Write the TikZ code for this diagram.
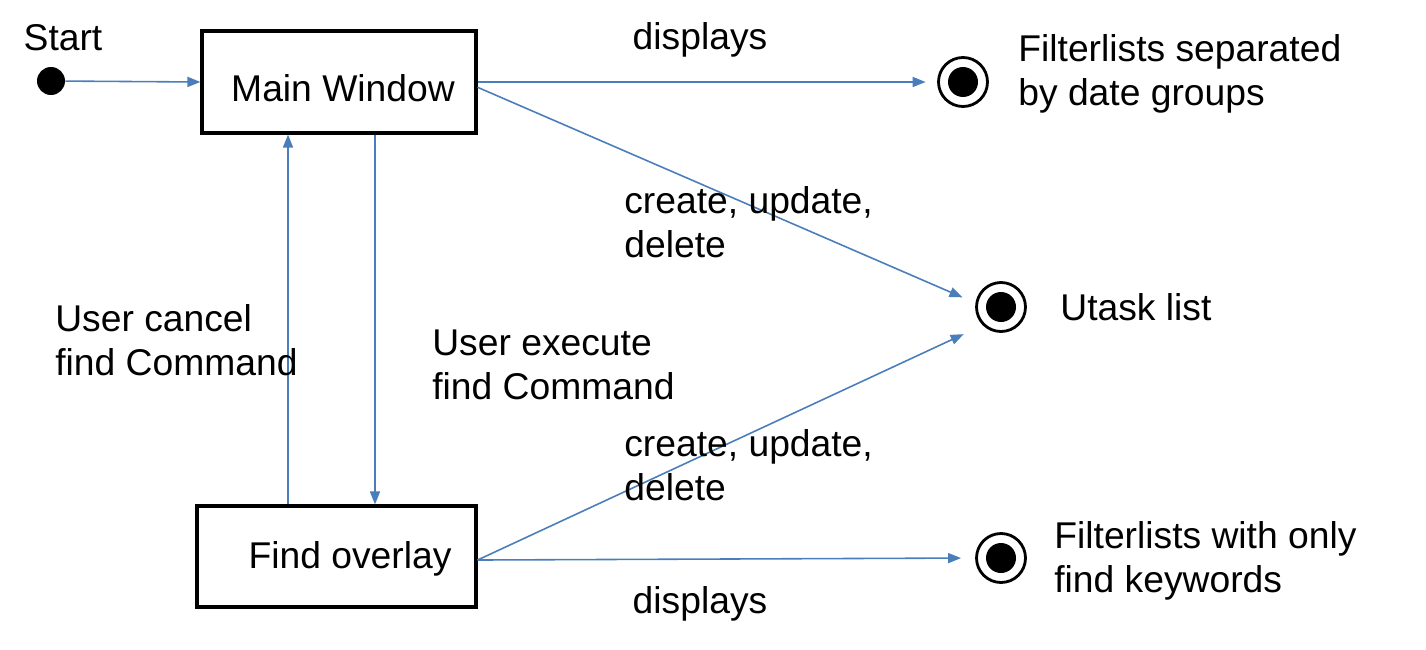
\documentclass[tikz,border=0pt]{standalone}
\usepackage{fontspec}
\setmainfont{Liberation Sans}
\usepackage{xcolor}
\usetikzlibrary{arrows.meta}
\definecolor{flowblue}{RGB}{74,126,187}

\begin{document}
\begin{tikzpicture}[x=0.02cm, y=-0.02cm,
    every node/.style={font=\fontsize{21.2}{25}\selectfont},
    statebox/.style={draw, line width=1.8pt, inner sep=0pt},
    endstate/.style={circle, draw, line width=1.6pt, minimum size=0.98cm, inner sep=0pt,
      path picture={\fill (path picture bounding box.center) circle (0.3cm);}},
    flow/.style={draw=flowblue, line width=0.9pt, -{Triangle[length=0.26cm, width=0.2cm]}},
    note/.style={anchor=west, align=left, inner sep=0pt}]
  \useasboundingbox (0,0) rectangle (1426,649);
  \node[circle, fill, minimum size=0.56cm, inner sep=0pt] (start) at (51,81) {};
  \node (starttxt) at (63,38) {Start};
  \node[statebox, minimum width=5.48cm, minimum height=2.04cm] (mainwin) at (339,82) {};
  \node (mainwintxt) at (343,88) {Main Window};
  \node[statebox, minimum width=5.58cm, minimum height=2.02cm] (findov) at (336.5,556.5) {};
  \node (findovtxt) at (350,559) {Find overlay};
  \node[endstate] (endA) at (963,82) {};
  \node[endstate] (endB) at (1001,307) {};
  \node[endstate] (endC) at (1001,558) {};
  % transitions
  \draw[flow] (start) -- (mainwin.west);
  \draw[flow, shorten >=0.23cm] (mainwin.east) -- (endA.west);
  \draw[flow, shorten >=0.84cm] ([yshift=-3pt]mainwin.east) -- ([yshift=-4pt]endB.center);
  \draw[flow, shorten >=0.42cm] ([yshift=-2pt]findov.east) -- (endB.south west);
  \draw[flow, shorten >=0.28cm] ([yshift=-2pt]findov.east) -- (endC.west);
  \draw[flow] ([xshift=-0.97cm]findov.north) -- ([xshift=-0.97cm]findov.north |- mainwin.south);
  \draw[flow] ([xshift=0.72cm]mainwin.south) -- ([xshift=0.72cm]mainwin.south |- findov.north);
  % labels
  \node (dispA) at (700,40) {displays};
  \node (dispC) at (700,604) {displays};
  \node[note] (cudA) at (624,222) {create, update,\\delete};
  \node[note] (cudC) at (624,465) {create, update,\\delete};
  \node[note] (cancel) at (55,340) {User cancel\\find Command};
  \node[note] (execute) at (432,365) {User execute\\find Command};
  \node[note] (txtA) at (1018,74) {Filterlists separated\\by date groups};
  \node[note] (txtB) at (1060,307) {Utask list};
  \node[note] (txtC) at (1054,561) {Filterlists with only\\find keywords};
\end{tikzpicture}
\end{document}
